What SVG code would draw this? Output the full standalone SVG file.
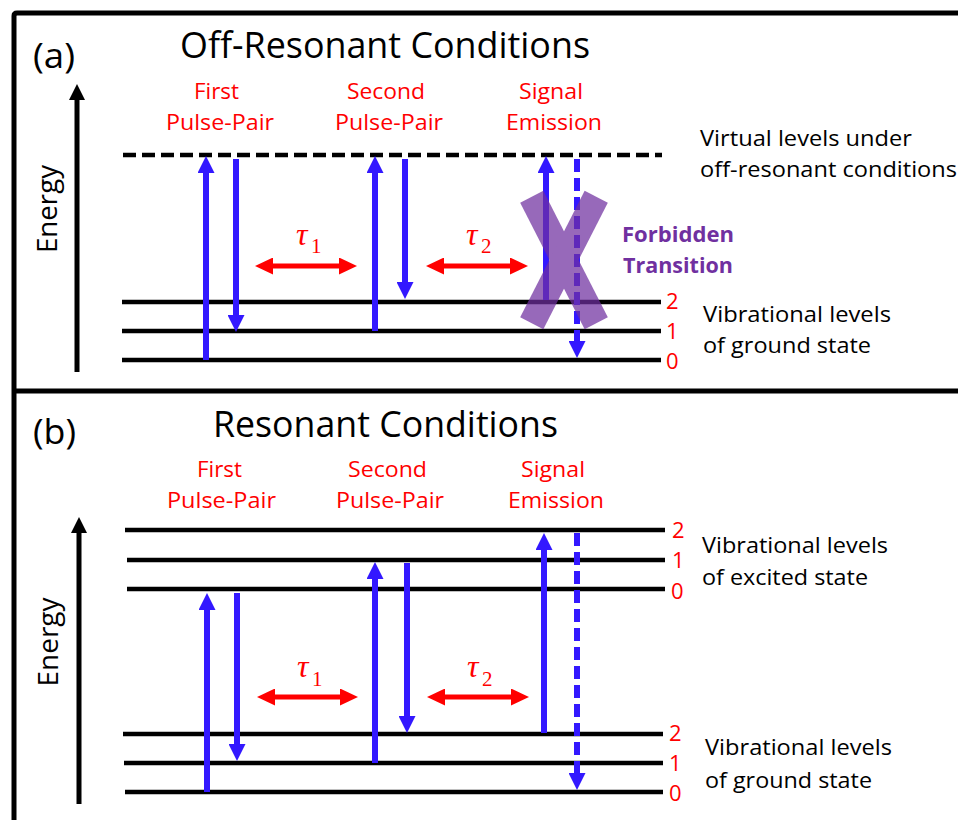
<svg xmlns="http://www.w3.org/2000/svg" width="958" height="820" viewBox="0 0 958 820">
  <style>
    .frame { stroke: #000; stroke-width: 5; fill: none; }
    .level { stroke: #000; stroke-width: 4.5; fill: none; }
    .virtual { stroke: #000; stroke-width: 4.5; stroke-dasharray: 13 6; fill: none; }
    .axis { stroke: #000; stroke-width: 5; fill: none; marker-end: url(#headBlack); }
    .pulse { stroke: #3318FF; stroke-width: 6; fill: none; marker-end: url(#headBlue); }
    .emit { stroke: #3318FF; stroke-width: 6; stroke-dasharray: 13 6; fill: none; marker-end: url(#headBlue); }
    .delay { stroke: #FF0000; stroke-width: 5; fill: none; marker-start: url(#headRed); marker-end: url(#headRed); }
    text { font-family: "Open Sans", "Liberation Sans", sans-serif; }
    .title { font-size: 36px; fill: #000; }
    .panel { font-size: 34px; fill: #000; }
    .axislabel { font-size: 27px; fill: #000; text-anchor: middle; }
    .red { font-size: 22px; fill: #FF0000; }
    .num { font-size: 22px; fill: #FF0000; }
    .note { font-size: 22px; fill: #000; }
    .forbid { font-size: 22px; font-weight: bold; fill: #7030A0; }
    .tau { font-family: "Liberation Serif", "DejaVu Serif", serif; font-style: italic; font-size: 32px; fill: #FF0000; }
    .sub { font-family: "Liberation Serif", "DejaVu Serif", serif; font-size: 21px; fill: #FF0000; }
  </style>
  <defs>
    <marker id="headBlue" markerUnits="userSpaceOnUse" viewBox="0 0 17 17" markerWidth="17" markerHeight="17" refX="0" refY="8.5" orient="auto">
      <path d="M0,0 L17,8.5 L0,17 Z" fill="#3318FF"/>
    </marker>
    <marker id="headRed" markerUnits="userSpaceOnUse" viewBox="0 0 18 17" markerWidth="18" markerHeight="17" refX="0" refY="8.5" orient="auto-start-reverse">
      <path d="M0,0 L18,8.5 L0,17 Z" fill="#FF0000"/>
    </marker>
    <marker id="headBlack" markerUnits="userSpaceOnUse" viewBox="0 0 16 16" markerWidth="16" markerHeight="16" refX="0" refY="8" orient="auto">
      <path d="M0,0 L16,8 L0,16 Z" fill="#000"/>
    </marker>
  </defs>

  <rect width="958" height="820" fill="#fff"/>

  <!-- outer frame and panel divider -->
  <g id="frame">
    <path class="frame" d="M14,820 L14,16 Q14,13 17,13 L958,13"/>
    <line class="frame" x1="14" y1="391" x2="958" y2="391"/>
  </g>

  <!-- ===== Panel (a): off-resonant ===== -->
  <g id="panel-a-titles">
    <text class="panel" x="33" y="68" textLength="42" lengthAdjust="spacingAndGlyphs">(a)</text>
    <text class="title" x="180" y="58" textLength="410" lengthAdjust="spacingAndGlyphs">Off-Resonant Conditions</text>
    <text class="axislabel" transform="translate(57,209) rotate(-90)" textLength="88" lengthAdjust="spacingAndGlyphs">Energy</text>
  </g>

  <g id="a-labels">
    <text class="red" x="194" y="99" textLength="45" lengthAdjust="spacingAndGlyphs">First</text>
    <text class="red" x="166" y="130" textLength="108" lengthAdjust="spacingAndGlyphs">Pulse-Pair</text>
    <text class="red" x="347" y="99" textLength="78" lengthAdjust="spacingAndGlyphs">Second</text>
    <text class="red" x="335" y="130" textLength="108" lengthAdjust="spacingAndGlyphs">Pulse-Pair</text>
    <text class="red" x="519" y="99" textLength="64" lengthAdjust="spacingAndGlyphs">Signal</text>
    <text class="red" x="506" y="130" textLength="96" lengthAdjust="spacingAndGlyphs">Emission</text>
  </g>

  <g id="a-levels">
    <line class="virtual" x1="123" y1="155" x2="662" y2="155"/>
    <line class="level" x1="122" y1="302" x2="661" y2="302"/>
    <line class="level" x1="122" y1="331" x2="661" y2="331"/>
    <line class="level" x1="122" y1="360" x2="661" y2="360"/>
    <text class="num" x="666" y="309">2</text>
    <text class="num" x="666" y="339">1</text>
    <text class="num" x="666" y="369">0</text>
    <text class="note" x="700" y="146" textLength="212" lengthAdjust="spacingAndGlyphs">Virtual levels under</text>
    <text class="note" x="700" y="177" textLength="257" lengthAdjust="spacingAndGlyphs">off-resonant conditions</text>
    <text class="note" x="703" y="322" textLength="188" lengthAdjust="spacingAndGlyphs">Vibrational levels</text>
    <text class="note" x="703" y="353" textLength="168" lengthAdjust="spacingAndGlyphs">of ground state</text>
  </g>

  <g id="a-delays">
    <text class="tau" x="296" y="245">τ</text><text class="sub" x="311" y="253">1</text>
    <text class="tau" x="466" y="245">τ</text><text class="sub" x="481" y="253">2</text>
  </g>

  <g id="a-connectors">
    <line class="axis" x1="77" y1="372" x2="77" y2="100"/>
    <line class="pulse" x1="206" y1="360" x2="206" y2="173"/>
    <line class="pulse" x1="236" y1="159" x2="236" y2="315"/>
    <line class="pulse" x1="375" y1="331" x2="375" y2="173"/>
    <line class="pulse" x1="405" y1="159" x2="405" y2="282"/>
    <line class="pulse" x1="546" y1="300" x2="546" y2="173"/>
    <line class="emit" x1="577" y1="159" x2="577" y2="341"/>
    <line class="delay" x1="273" y1="266" x2="339" y2="266"/>
    <line class="delay" x1="444" y1="266" x2="510" y2="266"/>
  </g>

  <!-- cross marking the forbidden emission -->
  <g id="forbidden">
    <g opacity="0.72" fill="#7030A0">
      <rect x="-13" y="-71" width="26" height="142" transform="translate(564,260) rotate(-27)"/>
      <rect x="-13" y="-71" width="26" height="142" transform="translate(564,260) rotate(27)"/>
    </g>
    <text class="forbid" x="622" y="242" textLength="112" lengthAdjust="spacingAndGlyphs">Forbidden</text>
    <text class="forbid" x="623" y="273" textLength="110" lengthAdjust="spacingAndGlyphs">Transition</text>
  </g>

  <!-- ===== Panel (b): resonant ===== -->
  <g id="panel-b-titles">
    <text class="panel" x="33" y="444" textLength="43" lengthAdjust="spacingAndGlyphs">(b)</text>
    <text class="title" x="213" y="437" textLength="345" lengthAdjust="spacingAndGlyphs">Resonant Conditions</text>
    <text class="axislabel" transform="translate(58,642) rotate(-90)" textLength="89" lengthAdjust="spacingAndGlyphs">Energy</text>
  </g>

  <g id="b-labels">
    <text class="red" x="197" y="477" textLength="45" lengthAdjust="spacingAndGlyphs">First</text>
    <text class="red" x="167" y="508" textLength="109" lengthAdjust="spacingAndGlyphs">Pulse-Pair</text>
    <text class="red" x="348" y="477" textLength="79" lengthAdjust="spacingAndGlyphs">Second</text>
    <text class="red" x="336" y="508" textLength="108" lengthAdjust="spacingAndGlyphs">Pulse-Pair</text>
    <text class="red" x="521" y="477" textLength="64" lengthAdjust="spacingAndGlyphs">Signal</text>
    <text class="red" x="508" y="508" textLength="96" lengthAdjust="spacingAndGlyphs">Emission</text>
  </g>

  <g id="b-excited-levels">
    <line class="level" x1="125" y1="530" x2="665" y2="530"/>
    <line class="level" x1="127" y1="560" x2="665" y2="560"/>
    <line class="level" x1="127" y1="589" x2="665" y2="589"/>
    <text class="num" x="672" y="538">2</text>
    <text class="num" x="672" y="568">1</text>
    <text class="num" x="671" y="599">0</text>
    <text class="note" x="702" y="553" textLength="186" lengthAdjust="spacingAndGlyphs">Vibrational levels</text>
    <text class="note" x="702" y="585" textLength="166" lengthAdjust="spacingAndGlyphs">of excited state</text>
  </g>

  <g id="b-ground-levels">
    <line class="level" x1="123" y1="734" x2="663" y2="734"/>
    <line class="level" x1="124" y1="763" x2="663" y2="763"/>
    <line class="level" x1="125" y1="792" x2="663" y2="792"/>
    <text class="num" x="669" y="741">2</text>
    <text class="num" x="669" y="771">1</text>
    <text class="num" x="669" y="801">0</text>
    <text class="note" x="705" y="755" textLength="187" lengthAdjust="spacingAndGlyphs">Vibrational levels</text>
    <text class="note" x="705" y="788" textLength="167" lengthAdjust="spacingAndGlyphs">of ground state</text>
  </g>

  <g id="b-delays">
    <text class="tau" x="297" y="677">τ</text><text class="sub" x="312" y="686">1</text>
    <text class="tau" x="467" y="677">τ</text><text class="sub" x="482" y="686">2</text>
  </g>

  <g id="b-connectors">
    <line class="axis" x1="79" y1="804" x2="79" y2="533"/>
    <line class="pulse" x1="207" y1="792" x2="207" y2="610"/>
    <line class="pulse" x1="237" y1="593" x2="237" y2="744"/>
    <line class="pulse" x1="375" y1="763" x2="375" y2="579"/>
    <line class="pulse" x1="407" y1="563" x2="407" y2="716"/>
    <line class="pulse" x1="544" y1="733" x2="544" y2="550"/>
    <line class="emit" x1="577" y1="533" x2="577" y2="773"/>
    <line class="delay" x1="275" y1="697" x2="340" y2="697"/>
    <line class="delay" x1="445" y1="697" x2="511" y2="697"/>
  </g>
</svg>
